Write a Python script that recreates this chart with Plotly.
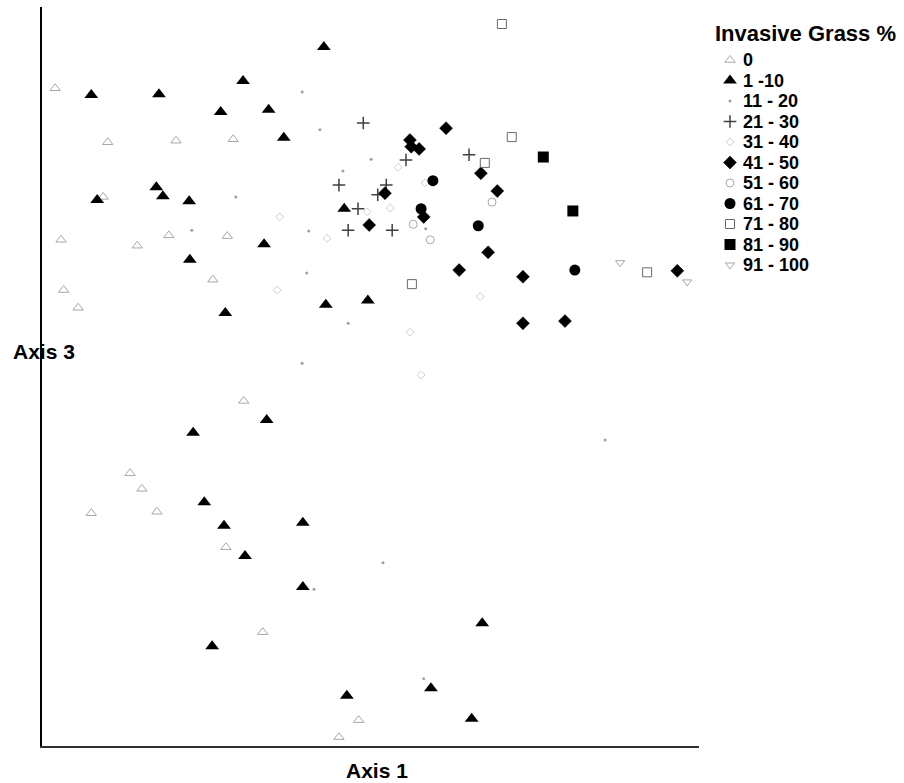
import plotly.graph_objects as go

# NMS ordination scores (Axis 1, Axis 3) by invasive grass cover class
class_labels = ["0", "1 -10", "11 - 20", "21 - 30", "31 - 40", "41 - 50",
                "51 - 60", "61 - 70", "71 - 80", "81 - 90", "91 - 100"]

ax1_c0 = [2.0, 10.0, 20.4, 29.1, 9.3, 2.9, 19.3, 14.5, 28.2, 26.0, 3.3, 5.5,
          30.7, 13.4, 15.2, 7.5, 17.5, 28.0, 33.6, 48.2, 45.2]
ax3_c0 = [89.0, 81.7, 81.9, 82.1, 74.3, 68.5, 69.1, 67.7, 69.0, 63.1, 61.7, 59.3,
          46.7, 36.9, 34.8, 31.5, 31.7, 26.9, 15.4, 3.5, 1.2]

ax1_c1 = [7.5, 17.8, 30.6, 27.2, 34.5, 36.8, 42.9, 17.4, 18.4, 22.4, 8.4, 33.8,
          22.5, 27.9, 43.2, 49.6, 46.0, 23.0, 34.2, 24.7, 27.7, 39.7, 30.9, 39.7,
          25.9, 67.0, 46.4, 59.2, 65.4]
ax3_c1 = [88.1, 88.2, 90.0, 85.8, 86.1, 82.3, 94.6, 75.6, 74.4, 73.7, 73.9, 67.9,
          65.8, 58.6, 59.7, 60.3, 72.7, 42.4, 44.1, 33.0, 29.8, 30.2, 25.7, 21.5,
          13.5, 16.6, 6.8, 7.8, 3.7]

ax1_c2 = [39.6, 42.3, 45.8, 50.1, 29.5, 22.8, 40.6, 40.3, 46.6, 39.6, 51.9, 58.1,
          85.7, 58.4, 41.4]
ax3_c2 = [88.5, 83.4, 77.8, 79.4, 74.3, 69.8, 69.7, 64.0, 57.2, 51.8, 24.8, 9.1,
          41.4, 70.0, 21.2]

ax1_c3 = [48.9, 55.4, 65.0, 45.2, 52.4, 51.1, 48.1, 46.6, 53.3]
ax3_c3 = [84.3, 79.3, 80.0, 75.9, 75.9, 74.6, 72.7, 69.8, 69.8]

ax1_c4 = [36.2, 43.4, 35.8, 54.2, 58.3, 49.5, 53.0, 66.7, 56.0, 57.7]
ax3_c4 = [71.6, 68.7, 61.7, 78.3, 76.2, 72.3, 72.8, 60.8, 56.0, 50.2]

ax1_c5 = [61.5, 56.0, 56.2, 57.4, 66.8, 69.3, 52.2, 58.1, 49.8, 67.9, 63.5, 73.2,
          96.7, 73.2, 79.6]
ax3_c5 = [83.6, 82.0, 81.1, 80.8, 77.5, 75.1, 74.8, 71.6, 70.5, 66.8, 64.4, 63.5,
          64.3, 57.2, 57.5]

ax1_c6 = [68.5, 56.5, 59.1]
ax3_c6 = [73.6, 70.6, 68.5]

ax1_c7 = [59.5, 57.7, 66.4, 81.1]
ax3_c7 = [76.5, 72.7, 70.4, 64.4]

ax1_c8 = [70.0, 71.5, 67.4, 56.3, 92.1]
ax3_c8 = [97.7, 82.4, 78.9, 62.5, 64.1]

ax1_c9 = [76.3, 80.8]
ax3_c9 = [79.7, 72.4]

ax1_c10 = [88.0, 98.2]
ax3_c10 = [65.4, 62.8]

ax1_all = [ax1_c0, ax1_c1, ax1_c2, ax1_c3, ax1_c4, ax1_c5,
           ax1_c6, ax1_c7, ax1_c8, ax1_c9, ax1_c10]
ax3_all = [ax3_c0, ax3_c1, ax3_c2, ax3_c3, ax3_c4, ax3_c5,
           ax3_c6, ax3_c7, ax3_c8, ax3_c9, ax3_c10]

# symbol, size, colour, outline width for each cover class
marker_styles = [
    dict(symbol="triangle-up-open", size=9, color="#a8a8a8", line=dict(width=1, color="#a8a8a8")),
    dict(symbol="triangle-up", size=12, color="black", line=dict(width=0)),
    dict(symbol="circle", size=3, color="#a0a0a0", line=dict(width=0)),
    dict(symbol="cross-thin-open", size=9, color="#404040", line=dict(width=1.5, color="#404040")),
    dict(symbol="diamond-open", size=6, color="#cfcfcf", line=dict(width=1, color="#cfcfcf")),
    dict(symbol="diamond", size=10, color="black", line=dict(width=0.5, color="black")),
    dict(symbol="circle-open", size=8, color="#a8a8a8", line=dict(width=1, color="#a8a8a8")),
    dict(symbol="circle", size=11, color="black", line=dict(width=0)),
    dict(symbol="square-open", size=9, color="#6a6a6a", line=dict(width=1, color="#6a6a6a")),
    dict(symbol="square", size=11, color="black", line=dict(width=0)),
    dict(symbol="triangle-down-open", size=8, color="#a8a8a8", line=dict(width=1, color="#a8a8a8")),
]

FONT = "Liberation Sans, Arial, sans-serif"
W, H = 904, 783
ML, MR, MT, MB = 42, 4, 7, 37
PW, PH = W - ML - MR, H - MT - MB
MAIN_W = 657  # width of the ordination panel in px

fig = go.Figure()

for xs, ys, style, name in zip(ax1_all, ax3_all, marker_styles, class_labels):
    fig.add_trace(go.Scatter(x=xs, y=ys, mode="markers", name=name,
                             marker=style, showlegend=False,
                             xaxis="x", yaxis="y"))

# key: one symbol per class, drawn on its own hidden axes
key_rows = list(range(len(class_labels)))
for row, style in zip(key_rows, marker_styles):
    fig.add_trace(go.Scatter(x=[8], y=[row], mode="markers", marker=style,
                             showlegend=False, hoverinfo="skip",
                             xaxis="x2", yaxis="y2"))

annotations = [
    dict(text="<b>Invasive Grass %</b>", xref="paper", yref="paper",
         x=(713 - ML) / PW, y=(H - MB - 33) / PH, xanchor="left", yanchor="middle",
         showarrow=False, font=dict(family=FONT, size=22, color="black")),
    dict(text="<b>Axis 3</b>", xref="paper", yref="paper",
         x=(11 - ML) / PW, y=(H - MB - 351) / PH, xanchor="left", yanchor="middle",
         showarrow=False, font=dict(family=FONT, size=21, color="black")),
    dict(text="<b>Axis 1</b>", xref="paper", yref="paper",
         x=(377 - ML) / PW, y=(H - MB - 770) / PH, xanchor="center", yanchor="middle",
         showarrow=False, font=dict(family=FONT, size=21, color="black")),
]
for row, label in zip(key_rows, class_labels):
    annotations.append(dict(text="<b>" + label + "</b>", xref="x2", yref="y2",
                            x=19, y=row, xanchor="left", yanchor="middle",
                            showarrow=False,
                            font=dict(family=FONT, size=18, color="black")))

key_top, key_bottom, key_step, key_first = 55, 270, 20.5, 60

fig.update_layout(
    width=W, height=H,
    margin=dict(l=ML, r=MR, t=MT, b=MB, pad=0),
    paper_bgcolor="white", plot_bgcolor="white",
    font=dict(family=FONT, color="black"),
    xaxis=dict(domain=[0, MAIN_W / PW], range=[0, 100], showline=True,
               linecolor="#303030", linewidth=2, showgrid=False, zeroline=False,
               showticklabels=False, ticks="", anchor="y"),
    yaxis=dict(domain=[0, 1], range=[0, 100], showline=True,
               linecolor="black", linewidth=2, showgrid=False, zeroline=False,
               showticklabels=False, ticks="", anchor="x"),
    xaxis2=dict(domain=[(722 - ML) / PW, 1], range=[0, W - MR - 722],
                visible=False, anchor="y2"),
    yaxis2=dict(domain=[(H - MB - key_bottom) / PH, (H - MB - key_top) / PH],
                range=[(key_bottom - key_first) / key_step,
                       (key_top - key_first) / key_step],
                visible=False, anchor="x2"),
    annotations=annotations,
)

fig.write_html("out.html")
